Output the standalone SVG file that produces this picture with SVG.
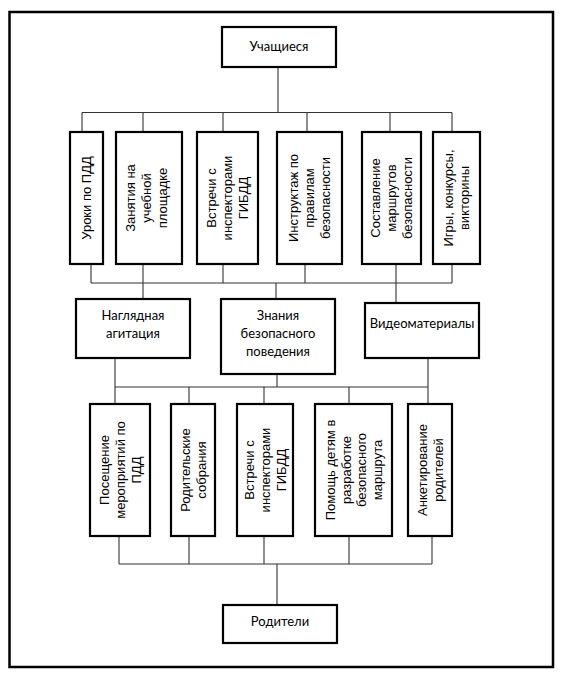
<svg xmlns="http://www.w3.org/2000/svg" width="561" height="676" viewBox="0 0 561 676">
<style>
.frame{fill:none;stroke:#000;stroke-width:2.5}
.box{fill:#fff;stroke:#000;stroke-width:2.2}
.ln{fill:none;stroke:#333;stroke-width:1.1}
.h{font-family:Lato,"Open Sans","Liberation Sans",sans-serif;font-size:13px;fill:#000;text-anchor:middle}
.v{font-family:"Liberation Sans",Arial,sans-serif;font-size:13px;fill:#000;text-anchor:middle}
</style>
<rect width="561" height="676" fill="#fff"/>
<rect class="frame" x="9.5" y="12" width="543.5" height="655"/>
<g id="connectors">
<path class="ln" d="M278 67V112.5M82 112.5H452M82 112.5V132M143 112.5V132M223 112.5V132M307 112.5V132M390 112.5V132M452 112.5V132"/>
<path class="ln" d="M91 264V283M143 264V299M223 264V283M305 264V283M396 264V303M452 264V283M91 283H452M276 283V299"/>
<path class="ln" d="M115 358V387M277 374V387M428 358V387M115 387H428M115 387V404M189 387V404M264 387V404M349 387V404M428 387V404"/>
<path class="ln" d="M119 536V564M189 536V564M264 536V564M349 536V564M432 536V564M119 564H432M277 564V605"/>
</g>
<g id="n-students"><rect class="box" x="222" y="27" width="114" height="40"/><text class="h" x="279" y="51">Учащиеся</text></g>
<g id="n-t1"><rect class="box" x="70" y="132" width="33" height="132"/><text class="v" transform="translate(86.5,198) rotate(-90)" y="4.5">Уроки по ПДД</text></g>
<g id="n-t2"><rect class="box" x="116" y="132" width="66" height="132"/><text class="v" transform="translate(149,198) rotate(-90)"><tspan x="0" y="-14">Занятия на</tspan><tspan x="0" y="2">учебной</tspan><tspan x="0" y="18">площадке</tspan></text></g>
<g id="n-t3"><rect class="box" x="197" y="132" width="61" height="132"/><text class="v" transform="translate(227.5,198) rotate(-90)"><tspan x="0" y="-11.5">Встречи с</tspan><tspan x="0" y="4.5">инспекторами</tspan><tspan x="0" y="20.5">ГИБДД</tspan></text></g>
<g id="n-t4"><rect class="box" x="277" y="132" width="65" height="132"/><text class="v" transform="translate(309.5,198) rotate(-90)"><tspan x="0" y="-11.5">Инструктаж по</tspan><tspan x="0" y="4.5">правилам</tspan><tspan x="0" y="20.5">безопасности</tspan></text></g>
<g id="n-t5"><rect class="box" x="362" y="132" width="59" height="132"/><text class="v" transform="translate(391.5,198) rotate(-90)"><tspan x="0" y="-11.5">Составление</tspan><tspan x="0" y="4.5">маршрутов</tspan><tspan x="0" y="20.5">безопасности</tspan></text></g>
<g id="n-t6"><rect class="box" x="433" y="132" width="47" height="132"/><text class="v" transform="translate(456.5,198) rotate(-90)"><tspan x="0" y="-3.5">Игры, конкурсы,</tspan><tspan x="0" y="12.5">викторины</tspan></text></g>
<g id="n-visual"><rect class="box" x="76" y="299" width="114" height="59"/><text class="h"><tspan x="133" y="320">Наглядная</tspan><tspan x="133" y="338">агитация</tspan></text></g>
<g id="n-knowledge"><rect class="box" x="221" y="299" width="114" height="75"/><text class="h"><tspan x="278" y="320">Знания</tspan><tspan x="278" y="338">безопасного</tspan><tspan x="278" y="356">поведения</tspan></text></g>
<g id="n-video"><rect class="box" x="365" y="303" width="114" height="55"/><text class="h" x="422" y="328">Видеоматериалы</text></g>
<g id="n-b1"><rect class="box" x="90" y="404" width="60" height="132"/><text class="v" transform="translate(120,470) rotate(-90)"><tspan x="0" y="-11.5">Посещение</tspan><tspan x="0" y="4.5">мероприятий по</tspan><tspan x="0" y="20.5">ПДД</tspan></text></g>
<g id="n-b2"><rect class="box" x="171" y="404" width="44" height="132"/><text class="v" transform="translate(193,470) rotate(-90)"><tspan x="0" y="-3.5">Родительские</tspan><tspan x="0" y="12.5">собрания</tspan></text></g>
<g id="n-b3"><rect class="box" x="237" y="404" width="56" height="132"/><text class="v" transform="translate(265,470) rotate(-90)"><tspan x="0" y="-11.5">Встречи с</tspan><tspan x="0" y="4.5">инспекторами</tspan><tspan x="0" y="20.5">ГИБДД</tspan></text></g>
<g id="n-b4"><rect class="box" x="315" y="404" width="77" height="132"/><text class="v" transform="translate(353.5,470) rotate(-90)"><tspan x="0" y="-18.5">Помощь детям в</tspan><tspan x="0" y="-3">разработке</tspan><tspan x="0" y="12.5">безопасного</tspan><tspan x="0" y="28">маршрута</tspan></text></g>
<g id="n-b5"><rect class="box" x="408" y="404" width="44" height="132"/><text class="v" transform="translate(430,470) rotate(-90)"><tspan x="0" y="-3.5">Анкетирование</tspan><tspan x="0" y="12.5">родителей</tspan></text></g>
<g id="n-parents"><rect class="box" x="223" y="605" width="114" height="38"/><text class="h" x="280" y="626">Родители</text></g>
</svg>
